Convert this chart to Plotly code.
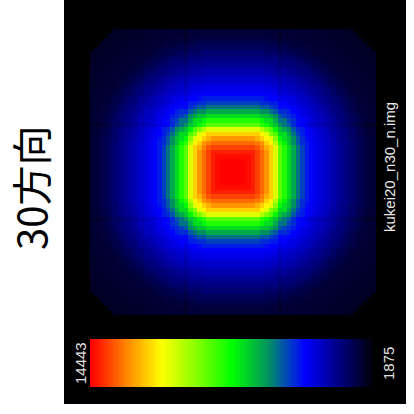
import numpy as np
import plotly.graph_objects as go

# ---- data ----
z_min = 1875
z_max = 14443
grid_size = 64
# relative intensity (0 = colour-bar minimum, 1 = maximum) read every half cell,
# going out from the hot square centre along the middle row
profile_level = [1.0, 1.0, 1.0, 1.0, 1.0, 0.998, 0.995, 0.99, 0.985, 0.972,
                 0.955, 0.938, 0.92, 0.90, 0.88, 0.857, 0.83, 0.797, 0.76, 0.717,
                 0.67, 0.622, 0.575, 0.53, 0.49, 0.46, 0.43, 0.40, 0.37, 0.345,
                 0.32, 0.30, 0.28, 0.265, 0.25, 0.24, 0.23, 0.222, 0.215, 0.207,
                 0.20, 0.192, 0.185, 0.177, 0.17, 0.162, 0.155, 0.147, 0.14, 0.132,
                 0.125, 0.117, 0.11, 0.102, 0.095, 0.087, 0.08, 0.072, 0.065, 0.06,
                 0.055, 0.05, 0.045, 0.044, 0.043, 0.042, 0.04, 0.039, 0.038, 0.037,
                 0.036, 0.035, 0.034, 0.033, 0.032, 0.031, 0.03, 0.029, 0.028, 0.027,
                 0.026, 0.025, 0.024, 0.023, 0.022, 0.021, 0.02, 0.019, 0.018]
hot_square_half = 4            # half side of the hot square, in cells
tile_rows = [21, 42]
tile_cols = [21, 42]
tile_gain = 0.95
corner_cut = [5, 4, 3, 2, 1]   # cells outside the field of view, per edge row
title_text = "30方向"
file_text = "kukei20_n30_n.img"
colorscale = [[0.00, "#000008"], [0.07, "#000050"], [0.15, "#0000a0"], [0.24, "#0000ff"],
              [0.30, "#0040c0"], [0.37, "#009060"], [0.50, "#00ff00"], [0.62, "#80ff00"],
              [0.75, "#ffff00"], [0.88, "#ff8000"], [1.00, "#ff0000"]]

# ---- build image ----
c = (grid_size - 1) / 2.0
idx = np.arange(grid_size)
dx = np.abs(idx[None, :] - c) + 0 * idx[:, None]
dy = np.abs(idx[:, None] - c) + 0 * idx[None, :]
s = hot_square_half
outside = np.sqrt(np.maximum(dx - s, 0) ** 2 + np.maximum(dy - s, 0) ** 2)
inside = np.minimum(np.maximum(dx - s, dy - s), 0)
e = s + outside + inside
lut = z_min + np.array(profile_level) * (z_max - z_min)
z = lut[np.clip(np.rint(2 * e).astype(int), 0, len(lut) - 1)]
for r in tile_rows:
    z[r, :] *= tile_gain
for col in tile_cols:
    z[:, col] *= tile_gain
z = z.astype(object)
n = grid_size
for r, cut in enumerate(corner_cut):
    for rr in (r, n - 1 - r):
        for cc in list(range(cut)) + list(range(n - cut, n)):
            z[rr, cc] = None

bar = [list(np.linspace(z_max, z_min, 256))]

W = H = 414
def px(x):
    return x / W
def py(y):
    return 1 - y / H

fig = go.Figure()
fig.add_trace(go.Heatmap(z=z.tolist(), coloraxis="coloraxis", xaxis="x", yaxis="y",
                         hoverinfo="skip"))
fig.add_trace(go.Heatmap(z=bar, coloraxis="coloraxis", xaxis="x2", yaxis="y2",
                         zsmooth="best", hoverinfo="skip"))

ax_common = dict(visible=False, showgrid=False, zeroline=False, fixedrange=True)
fig.update_layout(
    width=W, height=H,
    margin=dict(l=0, r=0, t=0, b=0),
    paper_bgcolor="white",
    plot_bgcolor="black",
    coloraxis=dict(colorscale=colorscale, cmin=z_min, cmax=z_max, showscale=False),
    xaxis=dict(domain=[px(90), px(376)], **ax_common),
    yaxis=dict(domain=[py(315), py(29)], autorange="reversed", **ax_common),
    xaxis2=dict(domain=[px(90), px(373)], anchor="y2", **ax_common),
    yaxis2=dict(domain=[py(387), py(339)], anchor="x2", **ax_common),
    shapes=[dict(type="rect", xref="paper", yref="paper", layer="below",
                 x0=px(64), x1=px(406), y0=py(404), y1=py(0),
                 fillcolor="black", line=dict(width=0))],
    annotations=[
        dict(text=title_text, xref="paper", yref="paper", x=px(30), y=py(188),
             xanchor="center", yanchor="middle", textangle=-90, showarrow=False,
             font=dict(family="Noto Sans CJK JP", size=40, color="black")),
        dict(text=file_text, xref="paper", yref="paper", x=px(389), y=py(167),
             xanchor="center", yanchor="middle", textangle=-90, showarrow=False,
             font=dict(family="Liberation Sans", size=15, color="#e8e8e8")),
        dict(text=str(z_max), xref="paper", yref="paper", x=px(80), y=py(363),
             xanchor="center", yanchor="middle", textangle=-90, showarrow=False,
             font=dict(family="Liberation Sans", size=15, color="#e0e0e0")),
        dict(text=str(z_min), xref="paper", yref="paper", x=px(388), y=py(364),
             xanchor="center", yanchor="middle", textangle=-90, showarrow=False,
             font=dict(family="Liberation Sans", size=15, color="#e0e0e0")),
    ],
)

fig.write_html("out.html", config={"displayModeBar": False})

# remove the default page margin so the figure sits at the window origin
with open("out.html", encoding="utf-8") as f:
    html = f.read()
html = html.replace("<body>", '<body style="margin:0;padding:0;overflow:hidden">', 1)
with open("out.html", "w", encoding="utf-8") as f:
    f.write(html)
